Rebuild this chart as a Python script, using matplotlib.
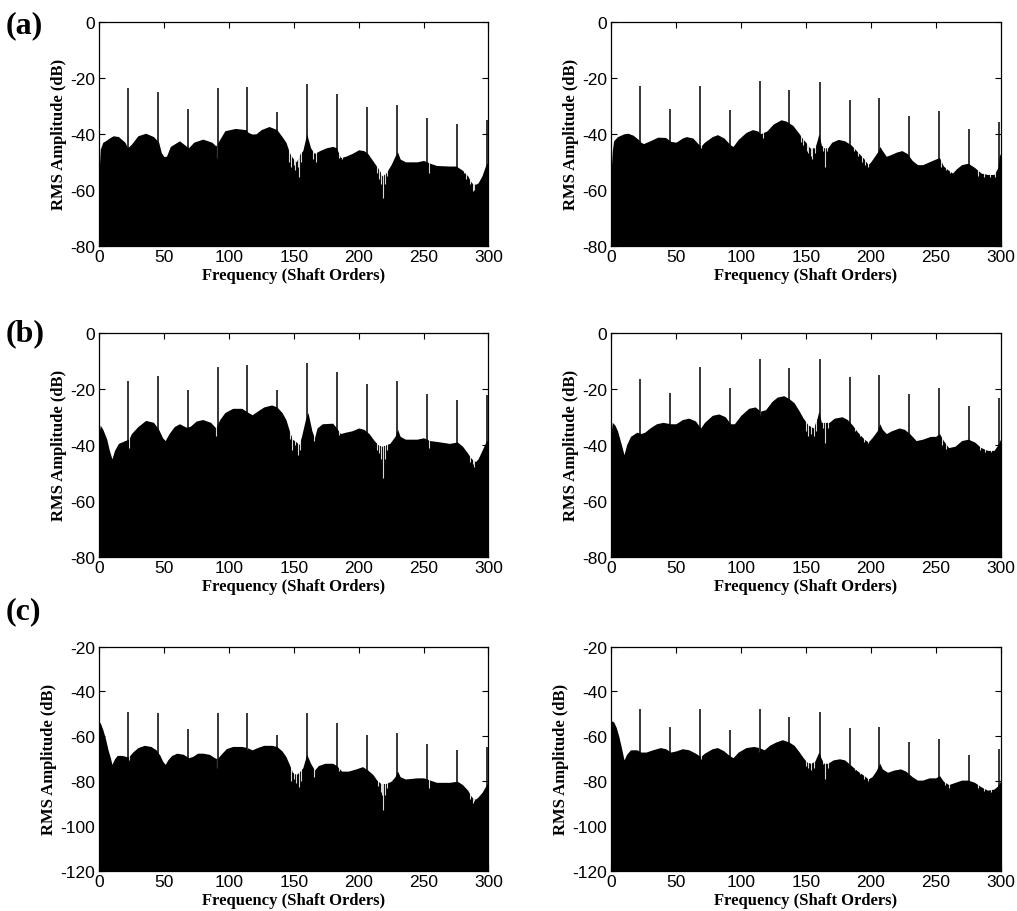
import numpy as np
import matplotlib.pyplot as plt

# gear-mesh harmonics (shaft orders) shared by every spectrum
mesh_orders = [22.6, 45.5, 68.5, 91.6, 114.4, 137.4, 160.6, 183.7, 206.5, 229.5, 252.5, 275.5, 299.2]

# (a) left
a_left_env = [(0, -55), (1, -45.5), (3, -43), (5, -42.5), (8, -41.5), (11, -40.7), (15, -41), (20, -43),
              (22, -45), (25, -43.7), (30, -40.7), (36, -39.8), (42, -41), (46, -43), (48, -46.7), (50, -48.1),
              (52, -48), (55, -44.5), (62, -42.5), (67, -44.3), (69, -45), (73, -43), (80, -41.9), (87, -43),
              (90, -44.3), (93, -42), (97, -38.9), (105, -38.1), (113, -38.5), (115, -39.5), (118, -40.1),
              (121, -40), (125, -38.5), (131, -37.4), (137, -38.5), (141, -41), (144, -43), (147, -47),
              (149, -48.5), (152, -50), (155, -47), (157, -46), (160, -40), (163, -45), (166, -47), (170, -46),
              (175, -45), (180, -44.5), (183, -45), (186, -48.5), (190, -48), (195, -47), (200, -45.7),
              (204, -46), (207, -47), (210, -49), (213, -51), (216, -53), (218, -55), (221, -54), (225, -51),
              (228, -48), (230, -46.5), (232, -49), (236, -50), (245, -50), (250, -49.5), (255, -50.5),
              (260, -51.3), (270, -51.5), (275, -51.5), (280, -53), (284, -55), (287, -57.5), (290, -58),
              (292, -57.5), (295, -55), (298, -51), (300, -50)]
a_left_peaks = [-23.8, -25.2, -31.2, -23.8, -23.3, -32.4, -22.4, -25.8, -30.6, -29.8, -34.2, -36.5, -35]
a_left_dips = [(91, -48.5), (146, -50), (148, -52), (150, -51), (151, -53), (153, -52), (154, -55.5),
               (156, -50), (165, -49), (167, -50), (185, -48.5), (187, -49), (214, -54), (216, -56),
               (217, -58), (219, -63), (220, -58), (222, -55), (254, -54), (281, -54), (283, -56),
               (286, -58), (288, -60.5), (289, -60)]

# (a) right
a_right_env = [(0, -54), (1, -46), (2, -42.5), (5, -41), (10, -40), (13, -39.8), (17, -40.5), (21, -42),
               (23, -43), (25, -43.5), (30, -42.5), (36, -41.2), (42, -41.3), (46, -42.7), (50, -43),
               (55, -41.5), (58, -41), (63, -41.5), (67, -43.5), (69, -44.5), (72, -43), (78, -41),
               (82, -40.3), (87, -41.5), (92, -44), (94, -44.5), (98, -42), (104, -39.5), (109, -38.5),
               (113, -39), (115, -40), (120, -39), (125, -36.5), (131, -35), (135, -35.5), (140, -37),
               (145, -40), (148, -42), (150, -43), (153, -45), (157, -45), (159, -42), (160, -40), (162, -44),
               (164, -45), (167, -45), (170, -43), (175, -42), (180, -42.5), (185, -44), (190, -46.5),
               (195, -49), (198, -51), (200, -50), (203, -48), (206, -46), (207, -44.5), (209, -46),
               (212, -48), (215, -47.5), (220, -46.5), (224, -46), (228, -47), (232, -49.5), (236, -51),
               (240, -51), (245, -50), (250, -49), (253, -48.5), (256, -51.5), (260, -53), (263, -54),
               (266, -52.5), (270, -51), (275, -50.5), (280, -52), (285, -54), (290, -54.5), (295, -54.5),
               (298, -52), (299, -48), (300, -47)]
a_right_peaks = [-22.9, -31.2, -22.9, -31.5, -21.3, -24.3, -21.7, -28, -27.4, -33.6, -31.8, -38.3, -35.7]
a_right_dips = [(69, -45), (117, -41.5), (146, -43), (148, -44), (151, -46), (152, -47), (154, -48),
                (155, -49), (157, -47), (163, -46), (165, -52), (166, -46), (187, -46), (190, -48),
                (193, -50), (196, -51), (198, -52), (254, -52), (258, -53), (261, -54), (283, -55),
                (287, -55.5), (292, -55.5), (296, -55.5)]

# (b) left
b_left_env = [(0, -36), (1, -33), (3, -34.5), (6, -38), (8, -42), (10, -45), (12, -42), (15, -39.5),
              (20, -38.5), (23, -38), (25, -36), (30, -33.5), (36, -31.3), (42, -32), (46, -34.5),
              (49, -37.5), (51, -38.5), (54, -36), (58, -33.5), (62, -32.5), (67, -33.7), (70, -33.5),
              (75, -31.5), (80, -31), (86, -32), (90, -34), (93, -31), (97, -28.5), (103, -27), (110, -27),
              (115, -28.5), (118, -29.3), (122, -28), (127, -26.5), (133, -25.8), (137, -26.5), (141, -28.5),
              (144, -31), (147, -35.5), (149, -38), (152, -39), (154, -40), (156, -37), (159, -31),
              (161, -28.5), (164, -35), (166, -37.5), (168, -34), (172, -32.5), (180, -32.3), (183, -34),
              (186, -36), (190, -35.5), (195, -35), (200, -34), (204, -34.5), (208, -36), (212, -38.5),
              (215, -40), (218, -40.5), (221, -40), (224, -39.5), (228, -37), (230, -34.5), (232, -37),
              (236, -38), (245, -38), (250, -37.5), (255, -38.5), (260, -38.8), (270, -39.5), (276, -39),
              (280, -40.5), (284, -43), (287, -45), (290, -46), (292, -45), (295, -42), (298, -39), (300, -38)]
b_left_peaks = [-17.2, -15.6, -20.5, -12.4, -11.6, -20.5, -10.7, -14.2, -18.4, -17.2, -21.9, -23.9, -22.3]
b_left_dips = [(23, -41), (90, -37), (147, -38), (149, -42), (151, -40), (153, -43.5), (155, -42),
               (166, -38.5), (185, -36.5), (214, -42), (216, -43), (217, -45), (219, -52), (220, -45),
               (222, -42), (254, -41), (286, -46), (288, -47), (289, -48)]

# (b) right
b_right_env = [(0, -36), (1, -32), (3, -33), (5, -35), (8, -40), (10, -43.5), (12, -40), (15, -37),
               (20, -35.5), (23, -36), (26, -35.5), (30, -34), (35, -32.5), (40, -32), (46, -32.5),
               (50, -32.5), (55, -31), (60, -30.5), (65, -31.5), (69, -34), (72, -32), (78, -29.5), (83, -29),
               (88, -30), (92, -32.5), (95, -32.5), (100, -29.5), (106, -27), (111, -26.5), (115, -28),
               (119, -27.5), (124, -24.5), (128, -23), (133, -22.5), (137, -23.5), (141, -25), (145, -28),
               (148, -30.5), (152, -33), (156, -34), (159, -30), (160, -28), (162, -32), (164, -32),
               (168, -32), (172, -30.5), (178, -30), (182, -31), (186, -33), (190, -35.5), (195, -38),
               (198, -39), (201, -37.5), (205, -35), (207, -32.5), (209, -34.5), (212, -36), (216, -35),
               (222, -34), (226, -34.5), (230, -36), (235, -38.5), (240, -38), (246, -37), (250, -37),
               (253, -36), (256, -38.5), (260, -41), (265, -40.5), (270, -38.5), (275, -38), (280, -39),
               (285, -41), (290, -42), (295, -42), (298, -40), (300, -38)]
b_right_peaks = [-16.6, -21.7, -12.4, -19.9, -9.5, -12.7, -9.5, -16, -15.2, -21.9, -19.6, -26.1, -23.4]
b_right_dips = [(115, -29.5), (150, -35), (152, -37), (154, -36), (156, -37), (158, -35), (163, -34),
                (165, -39.5), (167, -34), (188, -35), (192, -37), (195, -39), (198, -39.5), (255, -40),
                (258, -41.5), (284, -42), (288, -42.5), (293, -42.5)]

# (c) left
c_left_env = [(0, -53.5), (1, -54), (3, -57), (5, -61), (7, -66), (9, -70), (10, -72.5), (12, -70),
              (14, -68.5), (18, -68.5), (21, -69), (23, -69), (26, -67), (30, -65), (35, -64), (40, -64.5),
              (44, -66), (47, -68.5), (49, -71), (51, -72.5), (53, -70.5), (56, -68.5), (60, -67.5), (65, -68),
              (69, -69.5), (72, -69), (76, -67.5), (80, -67.5), (85, -68), (89, -69.5), (91, -70), (94, -68),
              (98, -65.5), (103, -64.5), (110, -64.5), (114, -65), (118, -66), (122, -65), (127, -64),
              (133, -64), (137, -64.5), (141, -66.5), (144, -69), (147, -73), (149, -76), (152, -77),
              (154, -76), (157, -74), (160, -68), (163, -72), (166, -75), (169, -73), (174, -72), (180, -72),
              (183, -73), (187, -75.5), (192, -75.5), (198, -74.5), (203, -73.5), (207, -75), (211, -77),
              (214, -79.5), (217, -81), (221, -81), (225, -80), (228, -78), (230, -75.5), (232, -78),
              (236, -79), (245, -78.5), (250, -78.5), (255, -79.5), (260, -80.5), (270, -80.5), (276, -80),
              (280, -81.5), (284, -84), (287, -87), (290, -88), (292, -87), (295, -85), (298, -82), (300, -80)]
c_left_peaks = [-49, -49.6, -56.8, -49.6, -49.8, -59.3, -49.8, -54.2, -59.3, -58.7, -63.5, -66.1, -64.9]
c_left_dips = [(23, -70.5), (91, -74), (114, -66), (148, -80), (150, -79), (152, -81), (154, -82.5),
               (156, -80), (166, -78), (185, -75.5), (215, -82), (217, -85), (218, -86), (219, -93),
               (220, -86), (222, -83), (254, -83), (286, -88), (288, -89.5), (289, -89)]

# (c) right
c_right_env = [(0, -53), (2, -53.5), (4, -56), (6, -60), (8, -65), (10, -70.5), (12, -68), (15, -66),
               (20, -66), (23, -67), (27, -67), (32, -66), (38, -65), (42, -65.5), (46, -67), (50, -66.5),
               (55, -65.5), (60, -66), (65, -67.5), (69, -69), (72, -67.5), (78, -65.5), (82, -65),
               (87, -66.5), (91, -68.5), (94, -69.5), (98, -67), (104, -65), (110, -64.5), (114, -65),
               (118, -66), (122, -64), (127, -62.5), (132, -61.5), (137, -62.5), (141, -64), (145, -67),
               (148, -69.5), (151, -71.5), (154, -72), (157, -71), (160, -67), (162, -70), (164, -72),
               (167, -72), (171, -70.5), (176, -70), (180, -70.5), (185, -73), (190, -75.5), (195, -77.5),
               (198, -79), (201, -78), (204, -75.5), (207, -72), (209, -74.5), (213, -76), (218, -75),
               (223, -74.5), (227, -75.5), (232, -78), (236, -79.5), (240, -79.5), (245, -78.5), (250, -78.5),
               (253, -77.5), (256, -80), (260, -81.5), (265, -80.5), (270, -79.5), (275, -79.5), (280, -80.5),
               (285, -82.5), (290, -84), (295, -83.5), (298, -82), (300, -80)]
c_right_peaks = [-47.6, -55.8, -47.9, -57.3, -47.6, -51.3, -49.1, -56.1, -55.8, -62.5, -61, -68.1, -65.5]
c_right_dips = [(69, -70), (114, -67), (150, -73), (152, -74), (154, -75), (156, -74), (163, -72.5),
                (165, -79), (167, -74), (188, -75), (192, -77), (195, -79), (198, -80), (257, -81.5),
                (260, -83), (283, -83), (287, -84.5), (293, -85)]

row_letters = ["(a)", "(b)", "(c)"]
row_ylims = [(-80, 0), (-80, 0), (-120, -20)]

panels = [
    [(a_left_env, a_left_peaks, a_left_dips), (a_right_env, a_right_peaks, a_right_dips)],
    [(b_left_env, b_left_peaks, b_left_dips), (b_right_env, b_right_peaks, b_right_dips)],
    [(c_left_env, c_left_peaks, c_left_dips), (c_right_env, c_right_peaks, c_right_dips)],
]

plt.rcParams["font.family"] = "Liberation Sans"
plt.rcParams["axes.unicode_minus"] = False

fig = plt.figure(figsize=(10.17, 9.12), dpi=100)

col_left = [0.0973, 0.6008]
row_bottom = [0.7292, 0.3882, 0.0439]
ax_w, ax_h = 0.3830, 0.2460
label_y = [0.972, 0.634, 0.329]


def plot_spectrum(ax, env, peaks, dips, ylim):
    lo, hi = ylim
    ex = [p[0] for p in env]
    ey = [p[1] for p in env]
    ax.fill_between(ex, ey, lo, color="black", lw=0, zorder=1)
    # spectral lines that drop below the envelope
    dx = [d[0] for d in dips]
    dy = [d[1] for d in dips]
    ax.vlines(dx, dy, hi, color="white", lw=0.8, alpha=0.85, zorder=1.5)
    # gear-mesh harmonics
    ax.vlines(mesh_orders, lo, peaks, color="black", lw=1.1, zorder=2)
    ax.set_xlim(0, 300)
    ax.set_ylim(lo, hi)
    ax.set_xticks(np.arange(0, 301, 50))
    ax.set_yticks(np.arange(lo, hi + 1, 20))
    ax.tick_params(direction="in", top=True, right=True, length=4, width=0.8,
                   labelsize=12.5)
    ax.tick_params(axis="x", pad=2.5)
    ax.tick_params(axis="y", pad=3)
    for s in ax.spines.values():
        s.set_linewidth(0.9)
    ax.set_xlabel("Frequency (Shaft Orders)", family="Liberation Serif",
                  fontweight="bold", fontsize=12, labelpad=1.5)
    ax.set_ylabel("RMS Amplitude (dB)", family="Liberation Serif",
                  fontweight="bold", fontsize=12, labelpad=2)


for r in range(3):
    for c in range(2):
        ax = fig.add_axes([col_left[c], row_bottom[r], ax_w, ax_h])
        env, peaks, dips = panels[r][c]
        plot_spectrum(ax, env, peaks, dips, row_ylims[r])
    fig.text(0.006, label_y[r], row_letters[r], family="Liberation Serif",
             fontweight="bold", fontsize=23, va="center", ha="left")

fig.savefig("out.png", dpi=100)
